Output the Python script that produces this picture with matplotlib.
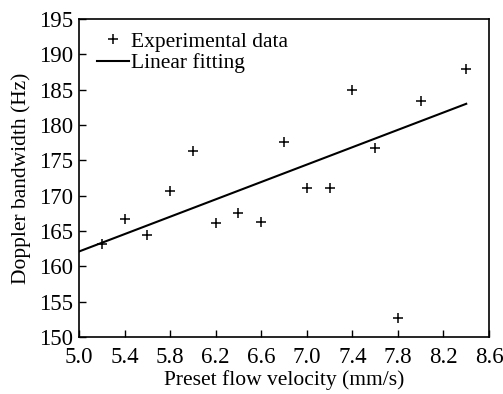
import matplotlib
matplotlib.use("Agg")
import matplotlib.pyplot as plt

velocity = [5.2, 5.4, 5.6, 5.8, 6.0, 6.2, 6.4, 6.6, 6.8, 7.0, 7.2, 7.4, 7.6, 7.8, 8.0, 8.4]
bandwidth = [163.2, 166.7, 164.4, 170.7, 176.3, 166.1, 167.6, 166.3, 177.6, 171.1, 171.1, 185.0, 176.8, 152.7, 183.4, 187.9]
fit_x = [5.0, 8.4]
fit_y = [162.1, 183.0]
xticks = [5.0, 5.4, 5.8, 6.2, 6.6, 7.0, 7.4, 7.8, 8.2, 8.6]
yticks = [150, 155, 160, 165, 170, 175, 180, 185, 190, 195]

plt.rcParams['font.family'] = ['Liberation Serif', 'DejaVu Serif']

fig = plt.figure(figsize=(5.03, 3.94), dpi=100)
ax = fig.add_axes([79/503, 1-337/394, 410/503, 318/394])

ax.plot(velocity, bandwidth, linestyle='none', marker='+', color='black',
        markersize=6.5, markeredgewidth=1.1, label='Experimental data')
ax.plot(fit_x, fit_y, color='black', linewidth=1.5, label='Linear fitting')

ax.set_xlim(5.0, 8.6)
ax.set_ylim(150, 195)
ax.set_xticks(xticks)
ax.set_xticklabels([f"{v:.1f}" for v in xticks])
ax.set_yticks(yticks)
ax.tick_params(direction='in', length=5, width=1, labelsize=16.5, colors='black')
ax.tick_params(axis='x', pad=7)
ax.tick_params(axis='y', pad=4)
for s in ax.spines.values():
    s.set_linewidth(1.2)

ax.set_xlabel('Preset flow velocity (mm/s)', fontsize=15.5, labelpad=2)
ax.set_ylabel('Doppler bandwidth (Hz)', fontsize=15.5, labelpad=6)

ax.legend(loc='upper left', frameon=False, fontsize=15.5, handlelength=1.5,
          handletextpad=0.1, borderaxespad=0.2, labelspacing=0.05,
          bbox_to_anchor=(0.012, 1.0))

fig.savefig('out.png', dpi=100)
